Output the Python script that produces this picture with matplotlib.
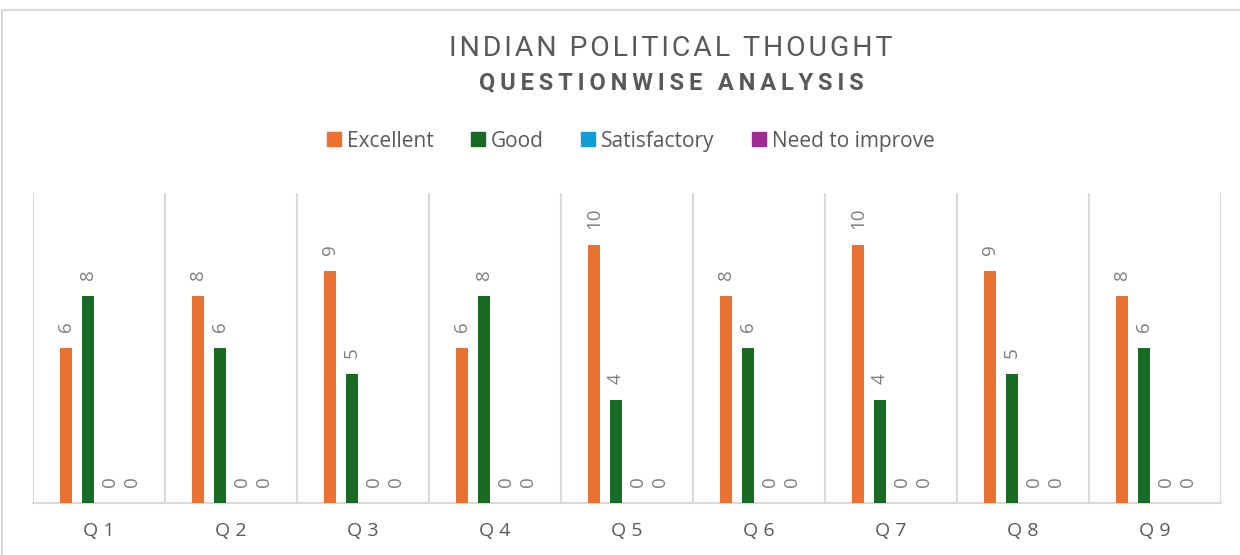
import matplotlib
matplotlib.use("Agg")
import matplotlib.pyplot as plt
from matplotlib.lines import Line2D
import numpy as np

categories = ["Q 1", "Q 2", "Q 3", "Q 4", "Q 5", "Q 6", "Q 7", "Q 8", "Q 9"]
excellent = [6, 8, 9, 6, 10, 8, 10, 9, 8]
good = [8, 6, 5, 8, 4, 6, 4, 5, 6]
satisfactory = [0, 0, 0, 0, 0, 0, 0, 0, 0]
need_improve = [0, 0, 0, 0, 0, 0, 0, 0, 0]
series_names = ["Excellent", "Good", "Satisfactory", "Need to improve"]
colors = ["#E97132", "#196B24", "#0F9ED5", "#A02B93"]

plt.rcParams['font.family'] = ['Roboto', 'DejaVu Sans']
TXT = "#595959"
BODY = ['Open Sans', 'DejaVu Sans']

W, H = 1240, 555
fig = plt.figure(figsize=(W / 100, H / 100), dpi=100)
fig.patch.set_facecolor("white")

# chart border
fig.add_artist(Line2D([2 / W, 1], [1 - 10 / H, 1 - 10 / H], color="#d9d9d9", lw=1.5))
fig.add_artist(Line2D([2 / W, 2 / W], [0, 1 - 10 / H], color="#d9d9d9", lw=1.5))

left, right, bottom, top = 33, 1221, 503, 193
ax = fig.add_axes([left / W, 1 - bottom / H, (right - left) / W, (bottom - top) / H])

x = np.arange(len(categories))
step = 0.167
width = 0.09
all_series = [excellent, good, satisfactory, need_improve]
for i, (vals, name, col) in enumerate(zip(all_series, series_names, colors)):
    pos = x + (i - 1.5) * step
    ax.bar(pos, vals, width=width, color=col, label=name, zorder=3)
    for xp, v in zip(pos, vals):
        ax.annotate(str(v), (xp, v), xytext=(0, 11.5), textcoords="offset points",
                    rotation=90, ha="center", va="bottom", fontsize=13.5, color="#7f7f7f",
                    family=BODY)

ax.set_xlim(-0.5, len(categories) - 0.5)
ax.set_ylim(0, 12)
ax.set_yticks([])
ax.set_xticks(x)
ax.set_xticklabels(categories, fontsize=14, color=TXT, family=BODY)
ax.tick_params(axis="x", length=0, pad=14)
ax.set_xticks(np.arange(-0.5, len(categories), 1), minor=True)
ax.tick_params(axis="x", which="minor", length=0)
ax.grid(which="minor", axis="x", color="#d9d9d9", lw=1.5, zorder=0)
for s in ["top", "left", "right"]:
    ax.spines[s].set_visible(False)
ax.spines["bottom"].set_color("#d9d9d9")
ax.spines["bottom"].set_linewidth(1.5)

def spaced(s, sep="\u200a"):
    return sep.join(s)

fig.text(671 / W, 1 - 49 / H, spaced("INDIAN POLITICAL THOUGHT"), ha="center", va="center",
         fontsize=20.5, color=TXT, fontweight="normal")
fig.text(671 / W, 1 - 83 / H, spaced("QUESTIONWISE ANALYSIS", "\u2009"), ha="center", va="center",
         fontsize=17, color=TXT, fontweight="bold")

handles = [plt.Rectangle((0, 0), 1, 1, color=c) for c in colors]
fig.legend(handles, series_names, loc="center", bbox_to_anchor=(631 / W, 1 - 141 / H), ncol=4,
           frameon=False, prop={'family': BODY, 'size': 15}, handlelength=0.65, handleheight=0.65,
           handletextpad=0.3, columnspacing=1.8, labelcolor=TXT)

fig.savefig("out.png", dpi=100)
